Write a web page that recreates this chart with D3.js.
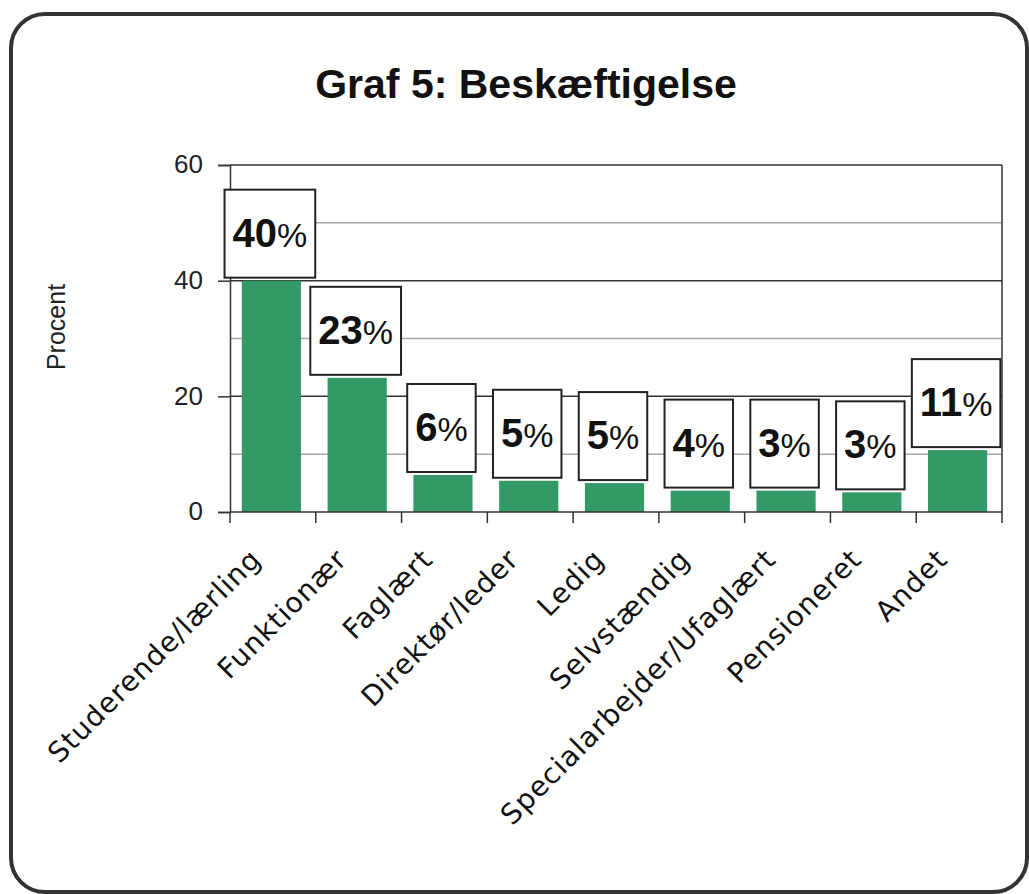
<!DOCTYPE html>
<html><head><meta charset="utf-8">
<script src="https://cdn.jsdelivr.net/npm/d3@7"></script>
<style>body{margin:0;background:#fff}svg{display:block}</style>
</head><body>
<svg id="c" width="1029" height="894"></svg>
<script>
const title = "Graf 5: Beskæftigelse";
const yTitle = "Procent";
const categories = ["Studerende/lærling","Funktionær","Faglært","Direktør/leder","Ledig","Selvstændig","Specialarbejder/Ufaglært","Pensioneret","Andet"];
const values = [40, 23.2, 6.4, 5.4, 5.0, 3.7, 3.7, 3.4, 10.7];
const valueLabels = ["40","23","6","5","5","4","3","3","11"];
const yTicks = [0, 20, 40, 60];
const minorGrid = [10, 30, 50];

const svg = d3.select("#c");
// frame
svg.append("rect").attr("x",11).attr("y",14).attr("width",1016).attr("height",878)
  .attr("rx",34).attr("ry",34).attr("fill","#fff").attr("stroke","#333").attr("stroke-width",4);

svg.append("text").attr("x",526).attr("y",98).attr("text-anchor","middle")
  .attr("font-family","Liberation Sans, Arial, sans-serif").attr("font-weight","bold")
  .attr("font-size",41).attr("fill","#111").text(title);

const x = d3.scaleBand().domain(categories).range([230,1002]).paddingInner(0.31).paddingOuter(0.155);
const y = d3.scaleLinear().domain([0,60]).range([512,165]);
const step = x.step();

// minor gridlines
svg.append("g").selectAll("line").data(minorGrid).join("line")
  .attr("x1",230).attr("x2",1002).attr("y1",d=>y(d)).attr("y2",d=>y(d))
  .attr("stroke","#a8a8a8").attr("stroke-width",1.5);
// major gridlines
svg.append("g").selectAll("line").data(yTicks.filter(d=>d>0)).join("line")
  .attr("x1",230).attr("x2",1002).attr("y1",d=>y(d)).attr("y2",d=>y(d))
  .attr("stroke","#333").attr("stroke-width",1.5);
// right border
svg.append("line").attr("x1",1002).attr("x2",1002).attr("y1",y(60)).attr("y2",y(0))
  .attr("stroke","#333").attr("stroke-width",1.5);

// bars
svg.append("g").selectAll("rect").data(values).join("rect")
  .attr("x",(d,i)=>x(categories[i])-1.5).attr("width",x.bandwidth())
  .attr("y",d=>y(d)).attr("height",d=>y(0)-y(d)).attr("fill","#339966");

// y axis
const yAxis = d3.axisLeft(y).tickValues(yTicks).tickSize(12).tickPadding(15).tickFormat(d3.format("d"));
const gy = svg.append("g").attr("transform","translate(230,0)").call(yAxis);
gy.select(".domain").attr("stroke","#333").attr("stroke-width",1.5);
gy.selectAll(".tick line").attr("stroke","#333").attr("stroke-width",1.5);
gy.selectAll(".tick text").attr("font-family","Liberation Sans, Arial, sans-serif")
  .attr("font-size",26).attr("fill","#222").attr("dy","0.3em");

// x axis
svg.append("line").attr("x1",230).attr("x2",1002).attr("y1",y(0)).attr("y2",y(0))
  .attr("stroke","#333").attr("stroke-width",1.5);
svg.append("g").selectAll("line").data(d3.range(categories.length+1)).join("line")
  .attr("x1",i=>230+i*step).attr("x2",i=>230+i*step).attr("y1",y(0)).attr("y2",y(0)+11)
  .attr("stroke","#333").attr("stroke-width",1.5);

svg.append("g").selectAll("text").data(categories).join("text")
  .attr("transform",d=>`translate(${x(d)+x.bandwidth()/2-10},561) rotate(-45)`)
  .attr("text-anchor","end")
  .attr("font-family","DejaVu Sans, Verdana, sans-serif").attr("font-size",28)
  .attr("letter-spacing",1).attr("fill","#111").text(d=>d);

// y title
svg.append("text").attr("transform","translate(65,327) rotate(-90)").attr("text-anchor","middle")
  .attr("font-family","Liberation Sans, Arial, sans-serif").attr("font-size",25).attr("fill","#222").text(yTitle);

// value label boxes
const lg = svg.append("g");
values.forEach((v,i)=>{
  const cx = x(categories[i]) + x.bandwidth()/2 - 3;
  const g = lg.append("g");
  const t = g.append("text").attr("text-anchor","middle")
    .attr("font-family","Liberation Sans, Arial, sans-serif").attr("fill","#111");
  t.append("tspan").attr("font-weight","bold").attr("font-size",40).text(valueLabels[i]);
  t.append("tspan").attr("font-size",34).text("%");
  const w = t.node().getComputedTextLength() + 16;
  const h = 88;
  const top = y(v) - 3 - h;
  g.insert("rect","text").attr("x",cx-w/2).attr("y",top).attr("width",w).attr("height",h)
    .attr("fill","#fff").attr("stroke","#222").attr("stroke-width",2);
  t.attr("x",cx).attr("y",top+57);
});
</script>
</body></html>
